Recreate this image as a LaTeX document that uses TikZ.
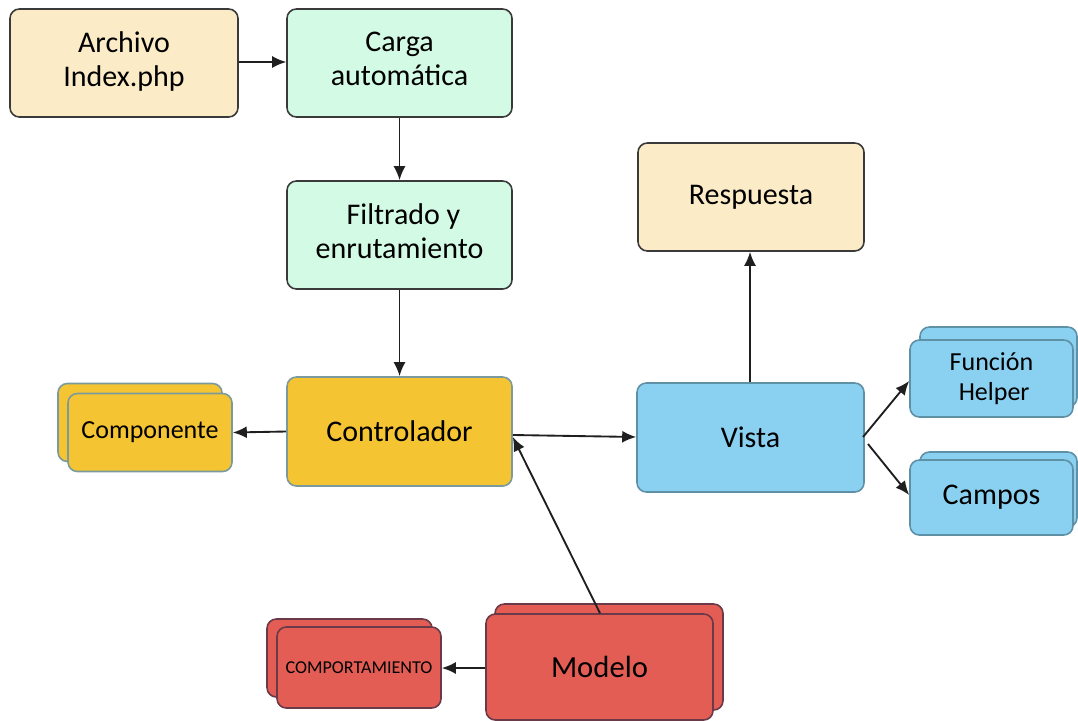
\documentclass[tikz,border=0pt]{standalone}
\usepackage{fontspec}
\setmainfont{Carlito}
\usetikzlibrary{arrows.meta}
\definecolor{beige}{HTML}{FBECC7}
\definecolor{mint}{HTML}{D2FAE4}
\definecolor{gold}{HTML}{F4C433}
\definecolor{sky}{HTML}{8AD1F1}
\definecolor{brick}{HTML}{E35D54}
\definecolor{darkline}{HTML}{3A3A3A}
\definecolor{goldline}{HTML}{7A9A9E}
\definecolor{skyline}{HTML}{5E90A6}
\definecolor{brickline}{HTML}{6A3A48}
\begin{document}
\begin{tikzpicture}[x=0.75pt,y=-0.75pt,
  box/.style={draw=darkline, line width=1.2pt, rounded corners=7pt, inner sep=0pt, align=center,
    font=\fontsize{22.5}{25.5}\selectfont},
  goldbox/.style={box, draw=goldline, fill=gold},
  skybox/.style={box, draw=skyline, fill=sky},
  brickbox/.style={box, draw=brickline, fill=brick},
  arr/.style={-{Latex[length=10.5pt,width=9pt]}, line width=1.4pt, black!88},
  ln/.style={line width=1.4pt, black!88}]
\useasboundingbox (0,0) rectangle (1078,721);

% top row
\node[box, fill=beige, minimum width=171pt, minimum height=81pt] (archivo) at (124,63) {Archivo\\Index.php\rule[-6pt]{0pt}{6pt}};
\node[box, fill=mint, minimum width=168.75pt, minimum height=81pt] (carga) at (399.5,63) {Carga\\automática\rule[-6pt]{0pt}{6pt}};
\node[box, fill=mint, minimum width=168.75pt, minimum height=81pt] (filtrado) at (399.5,235) {\hspace*{6pt}Filtrado y\\enrutamiento\rule[-6pt]{0pt}{6pt}};
\node[box, fill=beige, minimum width=169.5pt, minimum height=81pt] (respuesta) at (751,197) {Respuesta};

% controller row
\node[goldbox, minimum width=168.75pt, minimum height=81.75pt] (controlador) at (399.5,431.5) {Controlador};
\node[goldbox, minimum width=123pt, minimum height=58.5pt] (componenteB) at (140,422.5) {};
\node[goldbox, minimum width=123pt, minimum height=58.5pt, font=\fontsize{19.5}{22}\selectfont] (componente) at (150,432.5) {Componente};

\node[skybox, minimum width=170.25pt, minimum height=81.75pt] (vista) at (750.5,437.5) {Vista};
\node[skybox, minimum width=117.75pt, minimum height=60pt] (funcionB) at (998.5,367) {};
\node[skybox, minimum width=122.25pt, minimum height=57.75pt, font=\fontsize{19.5}{22}\selectfont] (funcion) at (991.5,378.5) {Función\\\hspace*{4pt}Helper};
\node[skybox, minimum width=117.75pt, minimum height=56.25pt] (camposB) at (998.5,489.5) {};
\node[skybox, minimum width=122.25pt, minimum height=56.25pt] (campos) at (991.5,497.5) {Campos};

% model row
\node[brickbox, minimum width=171pt, minimum height=79.5pt] (modeloB) at (609,657) {};
\node[brickbox, minimum width=170.25pt, minimum height=79.5pt, font=\fontsize{23}{26}\selectfont] (modelo) at (599.5,667) {Modelo};
\node[brickbox, minimum width=123.75pt, minimum height=58.5pt] (compB) at (349.5,658) {};
\node[brickbox, minimum width=123pt, minimum height=60.75pt, font=\fontsize{13.6}{15}\selectfont] (comp) at (359,667.5) {COMPORTAMIENTO};

% connectors
\draw[arr] (archivo.east |- 0,62) -- (carga.west |- 0,62);
\draw[arr] (carga.south) -- (filtrado.north);
\draw[arr] (filtrado.south) -- (controlador.north);
\draw[arr] (controlador.west) -- (componente.east);
\draw[arr] (controlador.east |- 0,435) -- (vista.west |- 0,437);
\draw[arr] (modelo.north -| 600,0) -- (controlador.east |- 0,437);
\draw[arr] (vista.north -| 750,0) -- (respuesta.south -| 750,0);
\coordinate (v1) at (863,437);
\coordinate (v2) at (868,444);
\draw[arr] (v1) -- (funcion.west |- 0,381);
\draw[arr] (v2) -- (campos.west |- 0,495);
\draw[arr] (modelo.west |- 0,668) -- (comp.east |- 0,668);
\end{tikzpicture}
\end{document}
